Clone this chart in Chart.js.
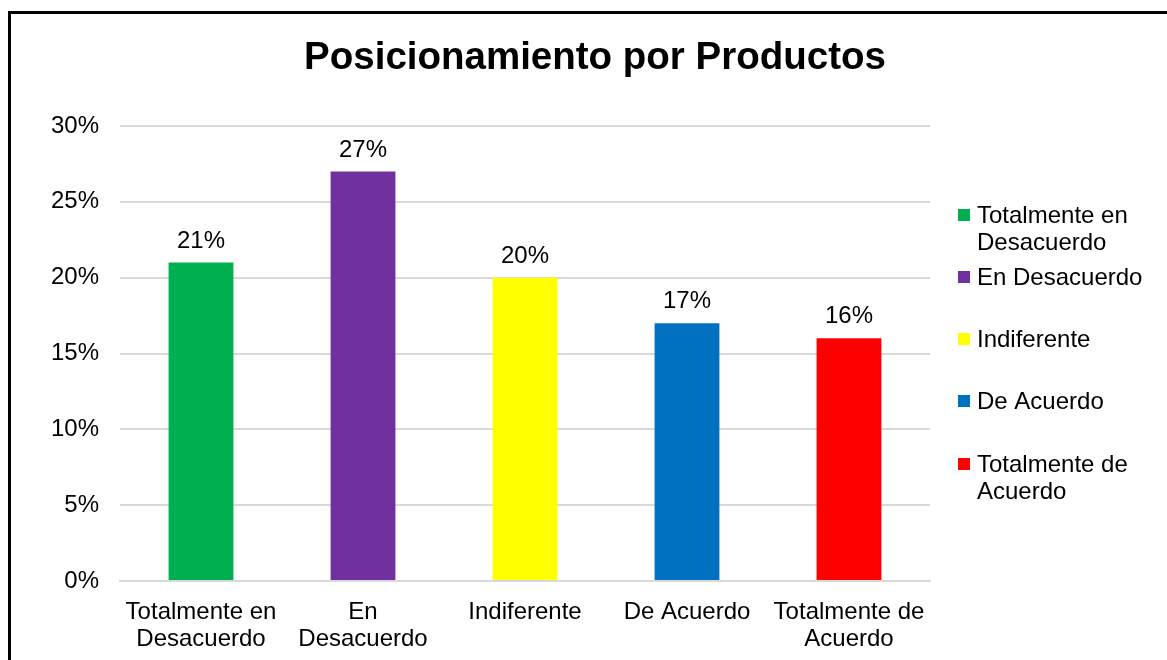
<!DOCTYPE html>
<html lang="es">
<head>
<meta charset="UTF-8">
<title>Posicionamiento por Productos</title>
<script src="https://cdn.jsdelivr.net/npm/chart.js"></script>
<style>
    * { margin: 0; padding: 0; }
    body { background: #fff; width: 1167px; height: 660px; overflow: hidden; position: relative; }
    .marco {
        position: absolute;
        left: 8px;
        top: 11px;
        width: 1200px;
        height: 700px;
        border-left: 3px solid #000;
        border-top: 3px solid #000;
    }
    #grafico { position: absolute; left: 0; top: 0; }
</style>
</head>
<body>
<div class="marco"></div>
<canvas id="grafico" width="1167" height="660"></canvas>
<script>
// datos del grafico
const categorias = [
    ['Totalmente en', 'Desacuerdo'],
    ['En', 'Desacuerdo'],
    ['Indiferente'],
    ['De Acuerdo'],
    ['Totalmente de', 'Acuerdo']
];
const leyenda = [
    ['Totalmente en', 'Desacuerdo'],
    ['En Desacuerdo'],
    ['Indiferente'],
    ['De Acuerdo'],
    ['Totalmente de', 'Acuerdo']
];
const valores = [21, 27, 20, 17, 16];
const colores = ['#00B050', '#7030A0', '#FFFF00', '#0070C0', '#FF0000'];
const titulo = 'Posicionamiento por Productos';

const fuente = 'Arial, "Liberation Sans", sans-serif';

// titulo, etiquetas de valor y leyenda
const extras = {
    id: 'extras',
    afterDraw(chart) {
        const ctx = chart.ctx;
        ctx.save();
        ctx.fillStyle = '#000';
        ctx.textAlign = 'center';
        ctx.textBaseline = 'middle';
        ctx.font = 'bold 38.5px ' + fuente;
        ctx.fillText(titulo, 595, 58);

        // valores sobre las barras
        ctx.font = '24px ' + fuente;
        ctx.textBaseline = 'alphabetic';
        const meta = chart.getDatasetMeta(0);
        meta.data.forEach((barra, i) => {
            ctx.fillText(valores[i] + '%', barra.x, barra.y - 15);
        });

        // leyenda
        const posiciones = [215, 277, 339, 401, 464];
        ctx.textAlign = 'left';
        ctx.textBaseline = 'middle';
        leyenda.forEach((lineas, i) => {
            const y = posiciones[i];
            ctx.fillStyle = colores[i];
            ctx.fillRect(958, y - 6, 12, 12);
            ctx.fillStyle = '#000';
            lineas.forEach((t, j) => {
                ctx.fillText(t, 977, y + 1 + j * 27);
            });
        });
        ctx.restore();
    }
};

const ctx = document.getElementById('grafico').getContext('2d');
const grafico = new Chart(ctx, {
    type: 'bar',
    data: {
        labels: categorias,
        datasets: [{
            data: valores,
            backgroundColor: colores,
            borderWidth: 0,
            categoryPercentage: 1,
            barPercentage: 0.4
        }]
    },
    options: {
        responsive: false,
        animation: false,
        layout: {
            padding: { left: 0, top: 126, right: 237, bottom: 0 }
        },
        plugins: {
            legend: { display: false },
            title: { display: false },
            tooltip: { enabled: false }
        },
        scales: {
            x: {
                grid: { display: false },
                border: { color: '#d9d9d9', width: 2 },
                ticks: {
                    color: '#000',
                    font: { family: fuente, size: 24, lineHeight: 1.125 },
                    padding: 10,
                    maxRotation: 0
                },
                afterFit: s => { s.height = 79; }
            },
            y: {
                min: 0,
                max: 30,
                ticks: {
                    stepSize: 5,
                    color: '#000',
                    font: { family: fuente, size: 24 },
                    padding: 21,
                    callback: v => v + '%'
                },
                grid: { color: '#d9d9d9', lineWidth: 2, drawTicks: false },
                border: { display: false },
                afterFit: s => { s.width = 120; }
            }
        }
    },
    plugins: [extras]
});
</script>
</body>
</html>
